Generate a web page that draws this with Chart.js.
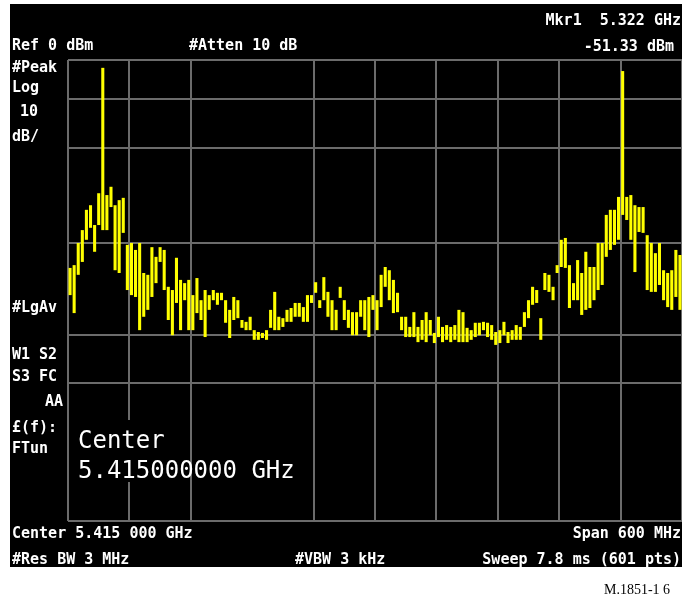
<!DOCTYPE html>
<html>
<head>
<meta charset="utf-8">
<script src="https://cdn.jsdelivr.net/npm/chart.js@4/dist/chart.umd.min.js"></script>
<style>
  html, body { margin: 0; padding: 0; background: #fff; }
  canvas { display: block; }
</style>
</head>
<body>
<canvas id="myChart" width="682" height="600"></canvas>
<script>
// sweep: 150 bins of 4 MHz, 5115 .. 5715 MHz
const startMHz = 5115;
const binMHz = 4;

// top of each trace column (dBm)
const traceHigh = [
  -45.1, -44.5, -39.7, -36.9, -32.5, -31.5, -35.8, -28.9, -1.7, -29.3,
  -27.5, -31.5, -30.4, -29.9, -40.1, -39.7, -41.2, -39.7, -46.2, -46.6,
  -40.6, -42.7, -40.6, -41.2, -49.2, -49.9, -42.9, -47.7, -48.4, -47.7,
  -51.0, -47.3, -52.1, -49.9, -51.0, -49.9, -50.5, -50.5, -52.1, -54.2,
  -51.4, -52.1, -56.4, -56.8, -55.7, -58.6, -59.0, -59.2, -58.6, -54.2,
  -50.3, -55.7, -56.0, -54.2, -53.8, -52.7, -52.7, -53.6, -51.0, -51.0,
  -48.2, -52.1, -47.1, -50.3, -52.1, -54.2, -49.2, -52.1, -54.2, -54.7,
  -54.7, -52.1, -52.1, -51.4, -51.0, -52.1, -46.6, -44.9, -45.6, -47.7,
  -50.5, -55.7, -55.7, -57.9, -54.7, -57.9, -56.4, -54.7, -56.4, -59.2,
  -55.7, -57.9, -57.5, -57.9, -57.5, -54.2, -54.7, -58.1, -58.6, -57.0,
  -57.0, -56.8, -57.0, -57.5, -59.0, -58.6, -56.8, -59.0, -58.6, -57.5,
  -57.9, -54.7, -52.1, -49.2, -49.9, -56.0, -46.2, -46.6, -49.2, -44.5,
  -39.0, -38.6, -44.5, -48.4, -43.4, -46.2, -41.6, -44.9, -44.9, -39.7,
  -39.7, -33.6, -32.5, -32.5, -29.7, -2.4, -29.7, -29.3, -31.5, -31.9,
  -31.9, -38.0, -39.7, -41.9, -39.7, -45.6, -46.2, -45.6, -41.2, -42.3
];

// bottom of each trace column (dBm)
const traceLow = [
  -51.0, -54.9, -46.6, -43.8, -39.0, -36.4, -41.6, -35.8, -36.9, -36.9,
  -31.9, -45.6, -46.2, -37.5, -49.9, -51.0, -51.4, -58.6, -55.7, -54.2,
  -51.4, -48.4, -43.8, -49.9, -56.4, -59.7, -52.7, -58.6, -52.1, -58.6,
  -58.6, -54.9, -56.4, -60.1, -54.2, -52.1, -53.1, -52.1, -57.0, -60.3,
  -56.4, -56.0, -58.1, -58.6, -58.6, -60.7, -60.7, -60.3, -60.7, -58.1,
  -58.6, -58.6, -57.9, -56.8, -56.8, -55.7, -55.7, -56.8, -56.8, -52.7,
  -50.5, -53.8, -52.1, -55.7, -58.6, -58.6, -51.6, -56.4, -58.1, -59.7,
  -59.7, -55.7, -58.6, -60.1, -54.2, -58.6, -53.6, -49.2, -52.1, -54.9,
  -54.7, -58.6, -60.1, -60.1, -60.1, -61.2, -60.7, -61.2, -59.7, -61.4,
  -60.1, -61.2, -60.7, -61.2, -60.7, -61.2, -61.2, -61.2, -60.7, -60.1,
  -59.7, -58.6, -60.1, -60.7, -61.8, -61.4, -59.7, -61.4, -60.7, -60.7,
  -60.7, -57.9, -56.0, -53.1, -52.7, -60.7, -49.9, -50.3, -52.1, -46.2,
  -44.9, -45.1, -53.8, -52.1, -52.1, -55.3, -54.2, -53.8, -52.1, -49.9,
  -48.8, -42.7, -41.2, -40.1, -39.0, -33.6, -34.7, -39.0, -46.0, -37.3,
  -37.5, -49.9, -50.3, -50.3, -48.8, -52.1, -53.6, -54.2, -51.4, -54.2
];

// graticule lines as they show on the screen (one x division is not drawn)
const xGridMHz = [5115, 5175, 5235, 5295, 5355, 5415, 5475, 5535, 5595, 5655, 5715];
const xGridHidden = [5295];
const yGridDbm = [0, -8.5, -19, -39.7, -59.7, -70.1, -100];

const points = traceHigh.map((hi, i) => ({
  x: startMHz + binMHz / 2 + binMHz * i,
  y: [traceLow[i], hi]
}));

const gridGrey = '#6b6b6b';

const screenText = {
  id: 'screenText',
  beforeDraw(chart) {
    const ctx = chart.ctx;
    ctx.save();
    ctx.fillStyle = '#ffffff';
    ctx.fillRect(0, 0, chart.width, chart.height);
    ctx.fillStyle = '#000000';
    ctx.fillRect(10, 4, 672, 563);
    ctx.restore();
  },
  afterDraw(chart) {
    const ctx = chart.ctx;
    ctx.save();
    // box behind the big centre readout
    ctx.fillStyle = '#000000';
    ctx.fillRect(72, 420, 92, 62);

    ctx.fillStyle = '#ffffff';
    ctx.textBaseline = 'alphabetic';
    ctx.font = 'bold 15px "DejaVu Sans Mono"';
    const left = [
      ['Ref 0 dBm', 12, 50], ['#Atten 10 dB', 189, 50],
      ['#Peak', 12, 72], ['Log', 12, 92], ['10', 20, 116], ['dB/', 12, 141],
      ['#LgAv', 12, 312],
      ['W1 S2', 12, 359], ['S3 FC', 12, 381], ['AA', 45, 406],
      ['£(f):', 12, 432], ['FTun', 12, 453],
      ['Center 5.415 000 GHz', 12, 538],
      ['#Res BW 3 MHz', 12, 564], ['#VBW 3 kHz', 295, 564]
    ];
    left.forEach(t => ctx.fillText(t[0], t[1], t[2]));

    ctx.textAlign = 'right';
    ctx.fillText('Mkr1  5.322 GHz', 681, 25);
    ctx.fillText('-51.33 dBm', 674, 51);
    ctx.fillText('Span 600 MHz', 681, 538);
    ctx.fillText('Sweep 7.8 ms (601 pts)', 681, 564);

    ctx.textAlign = 'left';
    ctx.font = '24px "DejaVu Sans Mono"';
    ctx.fillText('Center', 78, 448);
    ctx.fillText('5.415000000 GHz', 78, 478);

    ctx.fillStyle = '#000000';
    ctx.font = '14px "Liberation Serif"';
    ctx.fillText('M.1851-1 6', 604, 594);
    ctx.restore();
  }
};

const config = {
  type: 'bar',
  data: {
    datasets: [{
      label: 'Trace 1',
      data: points,
      backgroundColor: '#ffff00',
      borderWidth: 0,
      barPercentage: 0.75,
      categoryPercentage: 1.0
    }]
  },
  options: {
    responsive: false,
    animation: false,
    devicePixelRatio: 1,
    layout: { padding: { left: 68, top: 60, right: 0, bottom: 79 } },
    plugins: {
      legend: { display: false },
      tooltip: { enabled: false },
      title: { display: false }
    },
    scales: {
      x: {
        type: 'linear',
        offset: false,
        min: startMHz,
        max: 5715,
        afterBuildTicks: axis => { axis.ticks = xGridMHz.map(v => ({ value: v })); },
        ticks: { display: false },
        grid: {
          offset: false,
          color: ctx => (ctx.tick && xGridHidden.includes(ctx.tick.value)) ? 'rgba(0,0,0,0)' : gridGrey,
          lineWidth: 2,
          drawTicks: false
        },
        border: { display: false }
      },
      y: {
        min: -100,
        max: 0,
        afterBuildTicks: axis => { axis.ticks = yGridDbm.map(v => ({ value: v })); },
        ticks: { display: false },
        grid: { color: gridGrey, lineWidth: 2, drawTicks: false },
        border: { display: false }
      }
    }
  },
  plugins: [screenText]
};

const myChart = new Chart(document.getElementById('myChart'), config);
</script>
</body>
</html>
